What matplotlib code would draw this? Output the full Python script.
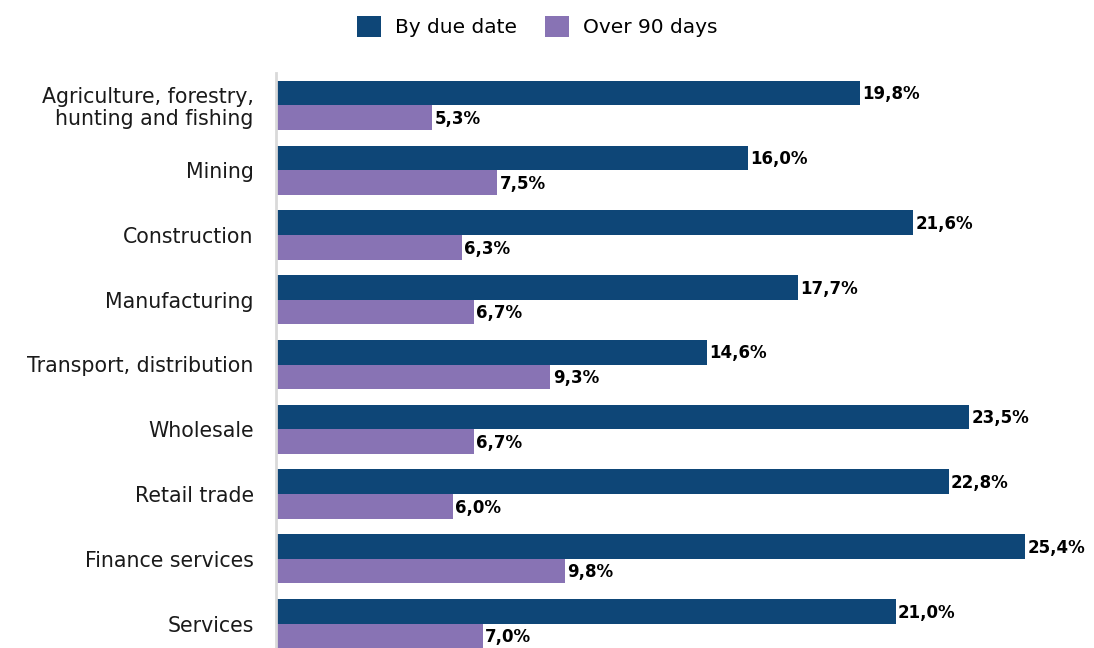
import numpy as np
import matplotlib.pyplot as plt

plt.rcParams["font.family"] = ["DejaVu Sans"]

categories = [
    "Agriculture, forestry,\nhunting and fishing",
    "Mining",
    "Construction",
    "Manufacturing",
    "Transport, distribution",
    "Wholesale",
    "Retail trade",
    "Finance services",
    "Services",
]
by_due_date = [19.8, 16.0, 21.6, 17.7, 14.6, 23.5, 22.8, 25.4, 21.0]
over_90_days = [5.3, 7.5, 6.3, 6.7, 9.3, 6.7, 6.0, 9.8, 7.0]

blue = "#0e4677"
purple = "#8873b4"

fig = plt.figure(figsize=(10.94, 6.48), dpi=100)
# axes runs slightly past the bottom edge, like the reference
ax = fig.add_axes([276 / 1094, -8 / 648, 1 - 276 / 1094, (648 - 73 + 8) / 648])

y = np.arange(len(categories))
h = 0.38
ax.barh(y - h / 2, by_due_date, height=h, color=blue, label="By due date")
ax.barh(y + h / 2, over_90_days, height=h, color=purple, label="Over 90 days")

for yi, v in zip(y, by_due_date):
    ax.text(v + 0.08, yi - h / 2 + 0.02, f"{v:.1f}%".replace(".", ","), va="center",
            ha="left", fontsize=12, fontweight="bold", color="black")
for yi, v in zip(y, over_90_days):
    ax.text(v + 0.08, yi + h / 2 + 0.02, f"{v:.1f}%".replace(".", ","), va="center",
            ha="left", fontsize=12, fontweight="bold", color="black")

ax.set_ylim(len(categories) - 0.5, -0.5)
ax.set_xlim(0, (1094 - 276) / 29.5)
ax.set_yticks(y)
ax.set_yticklabels(categories, fontsize=14.8, color="#1a1a1a", linespacing=1.1)
for lab in ax.get_yticklabels():
    lab.set_multialignment("right")
ax.tick_params(axis="y", length=0, pad=16)
ax.set_xticks([])
for s in ["top", "right", "bottom"]:
    ax.spines[s].set_visible(False)
ax.spines["left"].set_color("#d9d9d9")
ax.spines["left"].set_linewidth(2)

fig.legend(loc="upper center", bbox_to_anchor=(0.491, 1.003), ncol=2,
           frameon=False, fontsize=14.5, handlelength=1.2, handleheight=1.2,
           columnspacing=1.4, handletextpad=0.7)

fig.savefig("out.png", dpi=100)
